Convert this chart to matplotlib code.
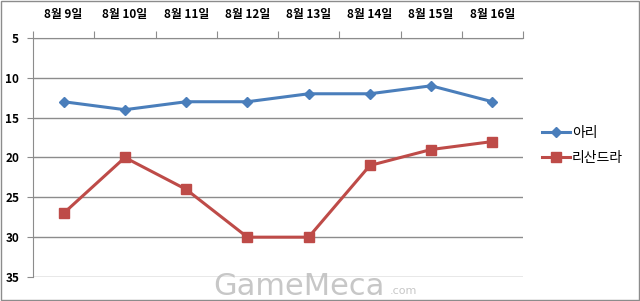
import matplotlib
matplotlib.use("Agg")
import matplotlib.pyplot as plt
from matplotlib.patches import Rectangle
import numpy as np

plt.rcParams['font.family'] = ['Noto Sans CJK KR', 'DejaVu Sans']

categories = ["8월 9일", "8월 10일", "8월 11일", "8월 12일", "8월 13일", "8월 14일", "8월 15일", "8월 16일"]
ahri = [13, 14, 13, 13, 12, 12, 11, 13]
lissandra = [27, 20, 24, 30, 30, 21, 19, 18]
series_names = ["아리", "리산드라"]
yticks = [5, 10, 15, 20, 25, 30, 35]

fig = plt.figure(figsize=(6.4, 3.01), dpi=100)
ax = fig.add_axes([33/640, 1-277/301, 490/640, 239/301])

x = np.arange(len(categories))
ax.plot(x, ahri, color='#4A7EBB', lw=2.2, marker='D', ms=5.5, label=series_names[0])
ax.plot(x, lissandra, color='#BE4B48', lw=2.2, marker='s', ms=7, label=series_names[1])

ax.set_xlim(-0.5, len(categories)-0.5)
ax.set_ylim(35, 5)
ax.set_yticks(yticks)
ax.set_yticklabels([str(v) for v in yticks], fontsize=8.5, fontweight='bold')
ax.yaxis.grid(True, color='#8C8C8C', lw=1)
ax.set_axisbelow(True)

ax.xaxis.tick_top()
ax.set_xticks(np.arange(len(categories)+1)-0.5)
ax.set_xticklabels([])
ax.set_xticks(x, minor=True)
ax.set_xticklabels(categories, minor=True, fontsize=8.5, fontweight='bold')
ax.tick_params(axis='x', which='major', length=5, color='#8C8C8C', direction='out')
ax.tick_params(axis='x', which='minor', length=0, pad=12)
ax.tick_params(axis='y', length=4, color='#8C8C8C', pad=6)

for s in ['right', 'bottom']:
    ax.spines[s].set_visible(False)
ax.spines['left'].set_color('#8C8C8C')
ax.spines['top'].set_color('#8C8C8C')

leg = fig.legend(loc='upper left', bbox_to_anchor=(538/640, 1-122/301), frameon=False,
                 fontsize=10, handlelength=2.0, labelspacing=0.75, handletextpad=0.15,
                 borderaxespad=0, borderpad=0.3)

fig.text(213/640, 0.0, "GameMeca", fontsize=22, color='#BDBDBD', ha='left', va='bottom',
         family='DejaVu Sans', alpha=0.85)
fig.text(390/640, 0.015, ".com", fontsize=8, color='#BDBDBD', ha='left', va='bottom',
         family='DejaVu Sans', alpha=0.85)

fig.patches.append(Rectangle((0.001, 0.002), 0.997, 0.995, transform=fig.transFigure,
                             fill=False, edgecolor='#8C8C8C', lw=1))

fig.savefig("out.png", dpi=100)
